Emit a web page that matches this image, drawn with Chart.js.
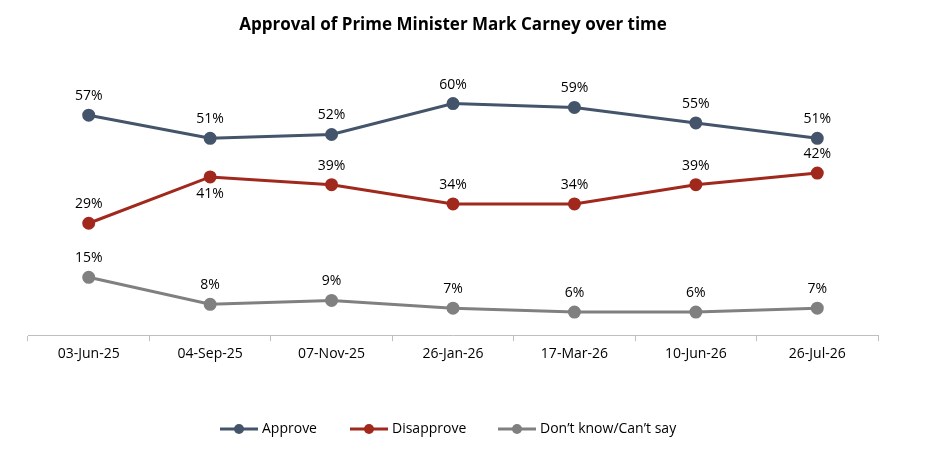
<!DOCTYPE html>
<html>
<head>
<meta charset="utf-8">
<script src="https://cdn.jsdelivr.net/npm/chart.js@4/dist/chart.umd.min.js"></script>
<style>
  body { margin: 0; background: #fff; }
  #wrap { width: 936px; height: 462px; }
</style>
</head>
<body>
<div id="wrap"><canvas id="chart" width="936" height="462"></canvas></div>
<script>
// Survey dates and results
const dates = ['03-Jun-25', '04-Sep-25', '07-Nov-25', '26-Jan-26', '17-Mar-26', '10-Jun-26', '26-Jul-26'];
const approve = [57, 51, 52, 60, 59, 55, 51];
const disapprove = [29, 41, 39, 34, 34, 39, 42];
const dontKnow = [15, 8, 9, 7, 6, 6, 7];
// which disapprove labels go below the point
const disapproveBelow = [false, true, false, false, false, false, false];

const seriesColors = ['#44546A', '#A0281C', '#808080'];
const seriesNames = ['Approve', 'Disapprove', 'Don\u2019t know/Can\u2019t say'];
const font = '"Open Sans", "Liberation Sans", sans-serif';

// Draw value labels, title and legend
const extras = {
    id: 'extras',
    afterDatasetsDraw(chart) {
        const ctx = chart.ctx;
        ctx.save();
        ctx.fillStyle = '#000';
        ctx.font = '14px ' + font;
        ctx.textAlign = 'center';
        chart.data.datasets.forEach((ds, i) => {
            chart.getDatasetMeta(i).data.forEach((pt, j) => {
                const below = i === 1 && disapproveBelow[j];
                ctx.textBaseline = below ? 'top' : 'bottom';
                ctx.fillText(ds.data[j] + '%', pt.x, below ? pt.y + 10 : pt.y - 12);
            });
        });

        // Title
        ctx.font = 'bold 17px ' + font;
        ctx.textBaseline = 'middle';
        ctx.fillText('Approval of Prime Minister Mark Carney over time', 453, 25);

        // Legend
        ctx.font = '14px ' + font;
        ctx.textAlign = 'left';
        const starts = [220, 350, 498];
        starts.forEach((x, i) => {
            const y = 429;
            ctx.strokeStyle = seriesColors[i];
            ctx.fillStyle = seriesColors[i];
            ctx.lineWidth = 3;
            ctx.beginPath();
            ctx.moveTo(x, y);
            ctx.lineTo(x + 38, y);
            ctx.stroke();
            ctx.beginPath();
            ctx.arc(x + 19, y, 5, 0, Math.PI * 2);
            ctx.fill();
            ctx.fillStyle = '#000';
            ctx.fillText(seriesNames[i], x + 42, y);
        });
        ctx.restore();
    }
};

function makeSet(label, data, color) {
    return {
        label: label,
        data: data,
        borderColor: color,
        backgroundColor: color,
        borderWidth: 3,
        pointRadius: 5,
        pointHoverRadius: 5,
        tension: 0
    };
}

new Chart(document.getElementById('chart'), {
    type: 'line',
    data: {
        labels: dates,
        datasets: [
            makeSet(seriesNames[0], approve, seriesColors[0]),
            makeSet(seriesNames[1], disapprove, seriesColors[1]),
            makeSet(seriesNames[2], dontKnow, seriesColors[2])
        ]
    },
    options: {
        responsive: false,
        animation: false,
        layout: { padding: { top: 65, left: 28, right: 58, bottom: 96 } },
        plugins: { legend: { display: false }, tooltip: { enabled: false } },
        scales: {
            x: {
                offset: true,
                grid: { offset: true, drawOnChartArea: false, tickLength: 6, color: '#BFBFBF' },
                border: { color: '#BFBFBF' },
                ticks: { color: '#000', font: { size: 14, family: font }, padding: 4 }
            },
            y: {
                display: false,
                min: 0,
                max: 70
            }
        }
    },
    plugins: [extras]
});
</script>
</body>
</html>
